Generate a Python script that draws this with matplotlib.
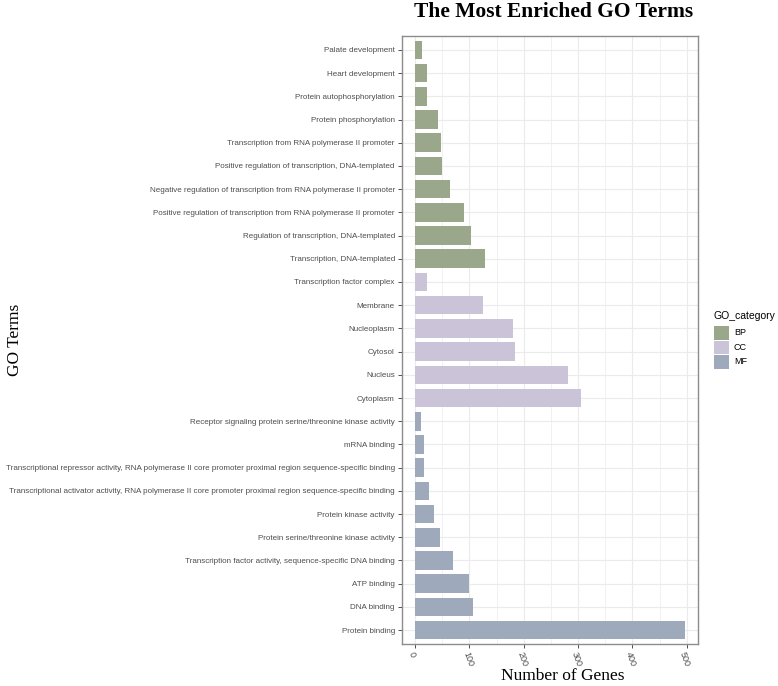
import matplotlib
matplotlib.use("Agg")
import matplotlib.pyplot as plt
from matplotlib.patches import Rectangle
import numpy as np

terms = [
    "Palate development",
    "Heart development",
    "Protein autophosphorylation",
    "Protein phosphorylation",
    "Transcription from RNA polymerase II promoter",
    "Positive regulation of transcription, DNA-templated",
    "Negative regulation of transcription from RNA polymerase II promoter",
    "Positive regulation of transcription from RNA polymerase II promoter",
    "Regulation of transcription, DNA-templated",
    "Transcription, DNA-templated",
    "Transcription factor complex",
    "Membrane",
    "Nucleoplasm",
    "Cytosol",
    "Nucleus",
    "Cytoplasm",
    "Receptor signaling protein serine/threonine kinase activity",
    "mRNA binding",
    "Transcriptional repressor activity, RNA polymerase II core promoter proximal region sequence-specific binding",
    "Transcriptional activator activity, RNA polymerase II core promoter proximal region sequence-specific binding",
    "Protein kinase activity",
    "Protein serine/threonine kinase activity",
    "Transcription factor activity, sequence-specific DNA binding",
    "ATP binding",
    "DNA binding",
    "Protein binding",
]
counts = [13, 21, 22, 42, 48, 50, 64, 89, 102, 129,
          21, 124, 180, 184, 281, 306,
          10, 17, 17, 25, 35, 45, 69, 99, 106, 496]
categories = ["BP"] * 10 + ["CC"] * 6 + ["MF"] * 10
cat_names = ["BP", "CC", "MF"]
cat_colors = {"BP": "#9AA78A", "CC": "#CBC3D8", "MF": "#9EAABB"}
xticks = [0, 100, 200, 300, 400, 500]

W, H = 778, 686
fig = plt.figure(figsize=(W / 100, H / 100), dpi=100)
ax = fig.add_axes([401.7 / W, 1 - 644 / H, (698 - 401.7) / W, (644 - 36) / H])

y = np.arange(len(terms))
ax.barh(y, counts, height=0.8, color=[cat_colors[c] for c in categories],
        edgecolor="none", zorder=3)

xmax = max(counts)
ax.set_xlim(-0.05 * xmax, 1.05 * xmax)
ax.set_ylim(len(terms) - 0.4, -0.6)

ax.set_xticks(xticks)
ax.set_xticks([50, 150, 250, 350, 450], minor=True)
ax.set_yticks(y)
ax.set_yticklabels(terms, fontsize=5.8, color="#4D4D4D", family="Liberation Sans")
ax.set_xticklabels([str(t) for t in xticks], fontsize=6.5, color="#4D4D4D",
                   family="Liberation Sans", rotation=-70, ha="left", va="top",
                   rotation_mode="anchor")
ax.tick_params(axis="both", which="major", length=3, width=0.6, color="#333333", pad=2)
ax.tick_params(axis="x", which="minor", length=0)
ax.grid(True, which="major", color="#EBEBEB", linewidth=0.8, zorder=0)
ax.grid(True, which="minor", axis="x", color="#EBEBEB", linewidth=0.5, zorder=0)
ax.set_axisbelow(True)
for s in ax.spines.values():
    s.set_color("#8C8C8C")
    s.set_linewidth(1.0)

fig.text(554 / W, 1 - 17 / H, "The Most Enriched GO Terms", ha="center", va="baseline",
         fontsize=15.5, fontweight="bold", family="Liberation Serif")
fig.text(563 / W, 1 - 676 / H, "Number of Genes", ha="center", va="center",
         fontsize=12.5, family="Liberation Serif")
fig.text(15 / W, 1 - 340 / H, "GO Terms", ha="center", va="center", rotation=90,
         fontsize=12.5, family="Liberation Serif")

# legend
fig.text(714 / W, 1 - 316 / H, "GO_category", ha="left", va="center",
         fontsize=7.5, family="Liberation Sans")
for i, c in enumerate(cat_names):
    top = 326 + i * 14.5
    fig.add_artist(Rectangle((714 / W, 1 - (top + 13.5) / H), 15 / W, 13.5 / H,
                             transform=fig.transFigure, facecolor=cat_colors[c],
                             edgecolor="none"))
    fig.text(734 / W, 1 - (top + 6.75) / H, c, ha="left", va="center",
             fontsize=6.5, family="Liberation Sans")

fig.savefig("out.png", dpi=100)
